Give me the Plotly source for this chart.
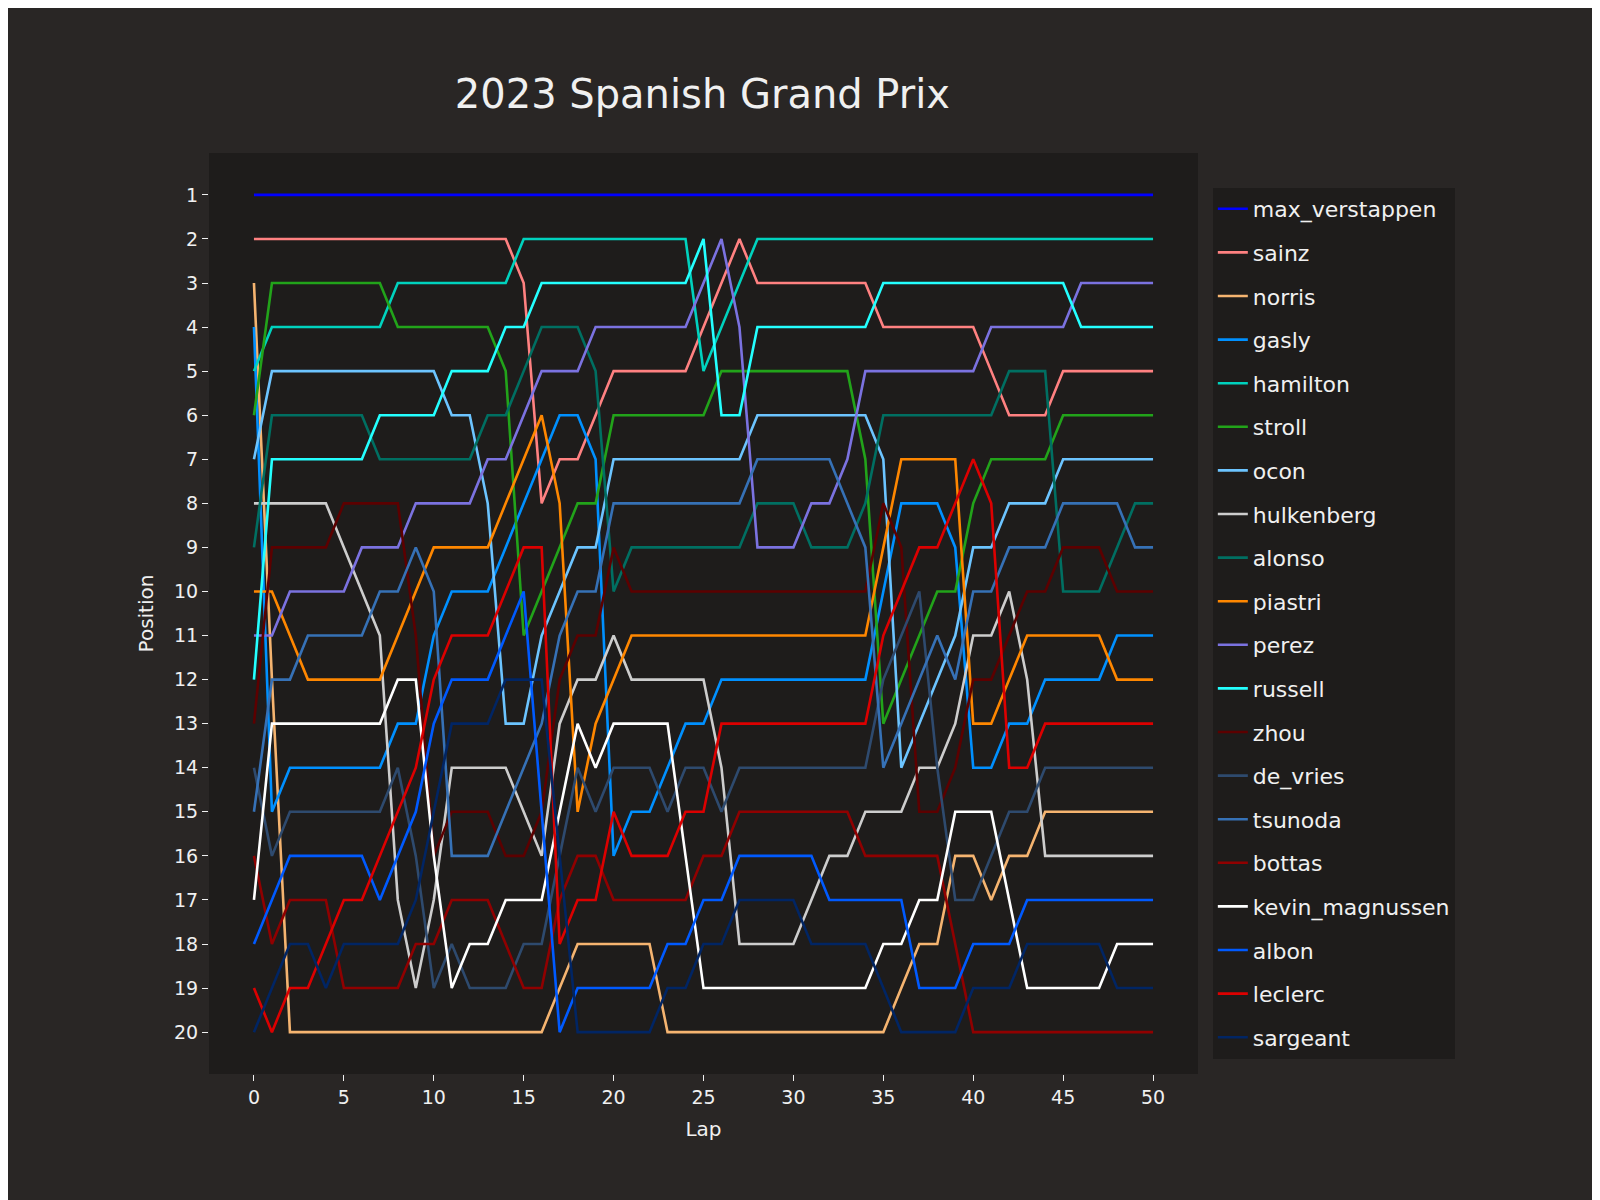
import plotly.graph_objects as go

laps = list(range(51))

drivers = ["max_verstappen", "sainz", "norris", "gasly", "hamilton", "stroll", "ocon",
           "hulkenberg", "alonso", "piastri", "perez", "russell", "zhou", "de_vries",
           "tsunoda", "bottas", "kevin_magnussen", "albon", "leclerc", "sargeant"]

colors = ["#0000ff", "#ff8181", "#f5b470", "#0090ff", "#00d2be", "#22a31a", "#6cc4ff",
          "#cdcdcd", "#006f62", "#ff8700", "#7b72e0", "#24ffff", "#5c0000", "#2e4a6e",
          "#3671b6", "#900000", "#ffffff", "#005aff", "#dc0000", "#012564"]

max_verstappen = [1] * 51
sainz = [2]*15 + [3, 8, 7, 7, 6, 5, 5, 5, 5, 5, 4, 3, 2] + [3]*7 + [4]*6 + [5, 6, 6, 6] + [5]*6
norris = [3, 12] + [20]*15 + [19, 18, 18, 18, 18, 18] + [20]*13 + [19, 18, 18, 16, 16, 17, 16, 16] + [15]*7
gasly = [4, 15, 14, 14, 14, 14, 14, 14, 13, 13, 11, 10, 10, 10, 9, 8, 7, 6, 6, 7, 16, 15, 15, 14, 13, 13] \
        + [12]*9 + [10, 8, 8, 8, 9, 14, 14, 13, 13, 12, 12, 12, 12, 11, 11, 11]
hamilton = [5] + [4]*7 + [3]*7 + [2]*10 + [5, 4, 3] + [2]*23
stroll = [6] + [3]*7 + [4]*6 + [5, 11, 10, 9, 8, 8] + [6]*6 + [5]*8 + [7, 13, 12, 11, 10, 10, 8] + [7]*4 + [6]*6
ocon = [7] + [5]*10 + [6, 6, 8, 13, 13, 11, 10, 9, 9] + [7]*8 + [6]*7 + [7, 14, 13, 12, 11, 9, 9] + [8]*3 + [7]*6
hulkenberg = [8]*5 + [9, 10, 11, 17, 19, 17, 14, 14, 14, 14, 15, 16, 13, 12, 12, 11] + [12]*5 + [14] \
             + [18]*4 + [17, 16, 16, 15, 15, 15, 14, 14, 13, 11, 11, 10, 12] + [16]*7
alonso = [9] + [6]*6 + [7]*6 + [6, 6, 5, 4, 4, 4, 5, 10] + [9]*7 + [8]*3 + [9]*3 + [8] + [6]*7 \
         + [5]*3 + [10]*3 + [9, 8, 8]
piastri = [10, 10, 11] + [12]*5 + [11, 10] + [9]*4 + [8, 7, 6, 8, 15, 13, 12] + [11]*14 \
          + [9, 7, 7, 7, 7, 13, 13, 12] + [11]*5 + [12]*3
perez = [11, 11, 10, 10, 10, 10, 9, 9, 9] + [8]*4 + [7, 7, 6, 5, 5, 5] + [4]*6 + [3, 2, 4, 9, 9, 9, 8, 8, 7] \
        + [5]*7 + [4]*5 + [3]*5
russell = [12] + [7]*6 + [6]*4 + [5, 5, 5, 4, 4] + [3]*9 + [2, 6, 6] + [4]*7 + [3]*11 + [4]*5
zhou = [13, 9, 9, 9, 9, 8, 8, 8, 8, 11, 16, 15, 15, 15, 16, 16, 15, 12, 11, 11, 9] + [10]*14 \
       + [8, 9, 15, 15, 14, 12, 12, 11, 10, 10, 9, 9, 9, 10, 10, 10]
de_vries = [14, 16] + [15]*6 + [14, 16, 19, 18, 19, 19, 19, 18, 18, 16, 14, 15, 14, 14, 14, 15, 14, 14, 15] \
           + [14]*8 + [12, 11, 10, 14, 17, 17, 16, 15, 15] + [14]*7
tsunoda = [15, 12, 12, 11, 11, 11, 11, 10, 10, 9, 10, 16, 16, 16, 15, 14, 13, 11, 10, 10] + [8]*8 \
          + [7]*5 + [8, 9, 14, 13, 12, 11, 12, 10, 10, 9, 9, 9] + [8]*4 + [9, 9]
bottas = [16, 18, 17, 17, 17, 19, 19, 19, 19, 18, 18, 17, 17, 17, 18, 19, 19, 17, 16, 16] + [17]*5 \
         + [16, 16] + [15]*7 + [16]*5 + [18] + [20]*11
kevin_magnussen = [17] + [13]*7 + [12, 12, 16, 19, 18, 18, 17, 17, 17, 15, 13, 14, 13, 13, 13, 13, 16] \
                  + [19]*10 + [18, 18, 17, 17, 15, 15, 15, 17] + [19]*5 + [18]*3
albon = [18, 17] + [16]*5 + [17, 16, 15, 13, 12, 12, 12, 11, 10, 15, 20] + [19]*5 + [18, 18, 17, 17] \
        + [16]*5 + [17]*5 + [19]*3 + [18]*3 + [17]*8
leclerc = [19, 20, 19, 19, 18, 17, 17, 16, 15, 14, 12, 11, 11, 11, 10, 9, 9, 18, 17, 17, 15, 16, 16, 16, 15, 15] \
          + [13]*9 + [11, 10, 9, 9, 8, 7, 8, 14, 14] + [13]*7
sargeant = [20, 19, 18, 18, 19, 18, 18, 18, 18, 17, 15, 13, 13, 13, 12, 12, 12, 16] + [20]*5 \
           + [19, 19, 18, 18] + [17]*4 + [18]*4 + [19] + [20]*4 + [19]*3 + [18]*5 + [19]*3

series = [max_verstappen, sainz, norris, gasly, hamilton, stroll, ocon, hulkenberg, alonso,
          piastri, perez, russell, zhou, de_vries, tsunoda, bottas, kevin_magnussen, albon,
          leclerc, sargeant]

fig = go.Figure()
for name, col, vals in zip(drivers, colors, series):
    fig.add_trace(go.Scatter(x=laps[:len(vals)], y=vals, mode="lines", name=name,
                             legendgroup=name, line=dict(color=col, width=2.6)))

txt = "#f0f0f0"
fig.update_layout(
    width=1600, height=1200,
    paper_bgcolor="#292625", plot_bgcolor="#1e1c1b",
    font=dict(family="DejaVu Sans", color=txt, size=19),
    title=dict(text="2023 Spanish Grand Prix", x=0.434, xanchor="center", y=0.928,
               yanchor="middle", font=dict(size=40, color=txt)),
    margin=dict(l=201, r=410, t=145, b=134),
    showlegend=True,
    legend=dict(x=1.015, xanchor="left", y=0.962, yanchor="top",
                bgcolor="#1e1c1b", font=dict(size=22, color=txt),
                traceorder="grouped", tracegroupgap=12),
)
fig.update_xaxes(range=[-2.5, 52.5], tickvals=list(range(0, 51, 5)), showgrid=False,
                 zeroline=False, ticks="outside", ticklen=6, tickcolor=txt,
                 title=dict(text="Lap", font=dict(size=20)), showline=False)
fig.update_yaxes(range=[20.95, 0.05], tickvals=list(range(1, 21)), showgrid=False,
                 zeroline=False, ticks="outside", ticklen=6, tickcolor=txt,
                 title=dict(text="Position", font=dict(size=20)), showline=False)

fig.write_html("out.html")
